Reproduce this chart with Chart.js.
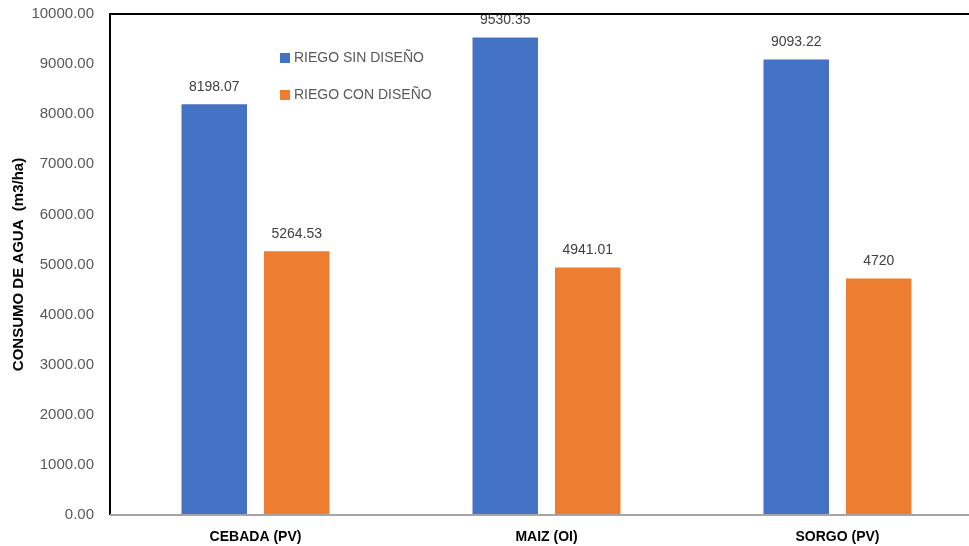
<!DOCTYPE html>
<html>
<head>
<meta charset="utf-8">
<script src="https://cdn.jsdelivr.net/npm/chart.js@4.4.0/dist/chart.umd.min.js"></script>
<style>
  html, body { margin: 0; padding: 0; background: #fff; overflow: hidden; }
  #wrap { width: 983px; height: 546px; }
</style>
</head>
<body>
<div id="wrap"><canvas id="chart"></canvas></div>
<script>
// datos
const categories = ["CEBADA (PV)", "MAIZ (OI)", "SORGO (PV)"];
const sinDiseno = [8198.07, 9530.35, 9093.22];
const conDiseno = [5264.53, 4941.01, 4720];
const sinLabels = ["8198.07", "9530.35", "9093.22"];
const conLabels = ["5264.53", "4941.01", "4720"];
const seriesNames = ["RIEGO SIN DISEÑO", "RIEGO CON DISEÑO"];
const colors = ["#4472C4", "#ED7D31"];

const FONT = "'Liberation Sans', Arial, sans-serif";

// etiquetas de valor encima de cada barra
const valueLabels = {
  id: "valueLabels",
  afterDatasetsDraw(chart) {
    const ctx = chart.ctx;
    const texts = [sinLabels, conLabels];
    ctx.save();
    ctx.font = "14px " + FONT;
    ctx.fillStyle = "#404040";
    ctx.textAlign = "center";
    ctx.textBaseline = "bottom";
    chart.data.datasets.forEach((ds, i) => {
      chart.getDatasetMeta(i).data.forEach((bar, j) => {
        ctx.fillText(texts[i][j], bar.x, bar.y - 10);
      });
    });
    ctx.restore();
  }
};

// leyenda dentro del area del grafico y bordes
const frame = {
  id: "frame",
  afterDraw(chart) {
    const ctx = chart.ctx;
    const a = chart.chartArea;
    ctx.save();
    ctx.strokeStyle = "#000";
    ctx.lineWidth = 2;
    ctx.beginPath();
    ctx.moveTo(a.left, a.bottom);
    ctx.lineTo(a.left, a.top);
    ctx.lineTo(a.right, a.top);
    ctx.stroke();
    ctx.strokeStyle = "#a6a6a6";
    ctx.beginPath();
    ctx.moveTo(a.left, a.bottom);
    ctx.lineTo(a.right, a.bottom);
    ctx.stroke();

    ctx.font = "14px " + FONT;
    ctx.textBaseline = "middle";
    ctx.textAlign = "left";
    seriesNames.forEach((name, i) => {
      const y = 58 + i * 37;
      ctx.fillStyle = colors[i];
      ctx.fillRect(280, y - 5, 10, 10);
      ctx.fillStyle = "#595959";
      ctx.fillText(name, 294, y);
    });
    ctx.restore();
  }
};

new Chart(document.getElementById("chart"), {
  type: "bar",
  data: {
    labels: categories,
    datasets: [
      { label: seriesNames[0], data: sinDiseno, backgroundColor: colors[0] },
      { label: seriesNames[1], data: conDiseno, backgroundColor: colors[1] }
    ]
  },
  options: {
    responsive: true,
    maintainAspectRatio: false,
    animation: false,
    categoryPercentage: 0.567,
    barPercentage: 0.794,
    layout: { padding: { top: 14, right: 0, left: 0, bottom: 0 } },
    plugins: {
      legend: { display: false },
      tooltip: { enabled: false }
    },
    scales: {
      y: {
        min: 0,
        max: 10000,
        ticks: {
          stepSize: 1000,
          padding: 16,
          color: "#595959",
          font: { family: FONT, size: 15 },
          callback: v => v.toFixed(2)
        },
        grid: { display: false, drawTicks: false },
        border: { display: false },
        title: {
          display: true,
          text: "CONSUMO DE AGUA  (m3/ha)",
          color: "#000",
          font: { family: FONT, size: 15, weight: "bold" },
          padding: { top: 10, bottom: 0 }
        },
        afterFit(scale) {
          scale.width = 110;
          scale.paddingTop = 0;
          scale.paddingBottom = 0;
        }
      },
      x: {
        ticks: {
          padding: 14,
          color: "#000",
          font: { family: FONT, size: 14, weight: "bold" }
        },
        grid: { display: false, drawTicks: false },
        border: { display: false },
        afterFit(scale) { scale.height = 31; }
      }
    }
  },
  plugins: [valueLabels, frame]
});
</script>
</body>
</html>
